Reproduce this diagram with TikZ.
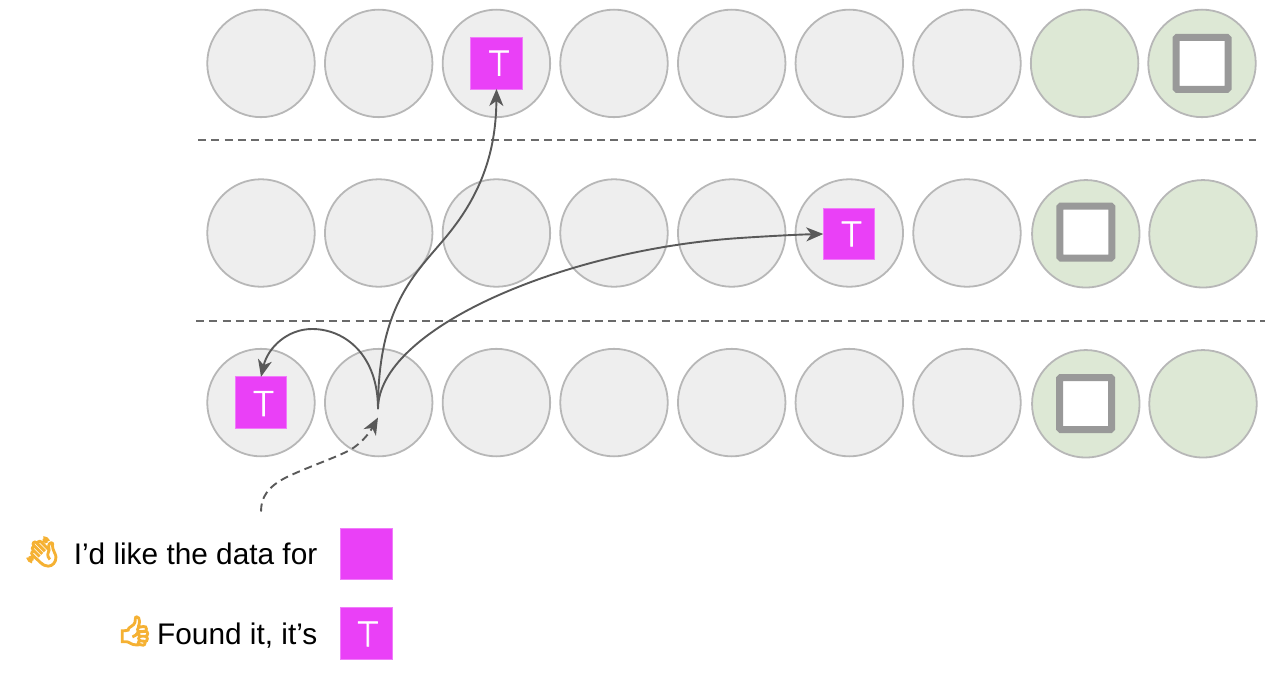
\documentclass[tikz,border=0pt]{standalone}
\usepackage{fontspec}
\setmainfont{Liberation Sans}
\newfontfamily\keyfont[FakeBold=2]{Lato Light}
\newfontfamily\emojifont[FakeBold=6]{Noto Emoji}
\usetikzlibrary{arrows.meta}
\definecolor{cellgray}{HTML}{EEEEEE}
\definecolor{cellgreen}{HTML}{DDE8D5}
\definecolor{celledge}{HTML}{B7B7B7}
\definecolor{keypink}{HTML}{EA40F7}
\definecolor{keyedge}{HTML}{F07CFA}
\definecolor{slotedge}{HTML}{999999}
\definecolor{linegray}{HTML}{595959}
\definecolor{emojiyellow}{HTML}{F5B133}
\tikzset{
  x=1pt,y=-1pt,
  cell/.style={circle,draw=celledge,line width=1.8pt,minimum size=107.5pt,inner sep=0pt,outer sep=0pt,fill=cellgray},
  greencell/.style={cell,fill=cellgreen},
  key/.style={rectangle,draw=keyedge,line width=.8pt,fill=keypink,minimum size=51.5pt,inner sep=0pt,outer sep=0pt,text=white},
  keytext/.style={inner sep=0pt,text=white,font=\keyfont\fontsize{35}{35}\selectfont},
  slot/.style={rectangle,rounded corners=1.2pt,draw=slotedge,line width=7pt,fill=white,minimum size=52pt,inner sep=0pt,outer sep=0pt},
  divider/.style={draw=linegray!90,line width=1.6pt,dash pattern=on 8pt off 5.3pt},
  conn/.style={draw=linegray,line width=1.9pt,-{Stealth[length=17pt,width=14pt,inset=5pt]}},
  dashedconn/.style={conn,dash pattern=on 8pt off 5pt},
  label/.style={anchor=base east,inner sep=0pt,font=\fontsize{29.8}{30}\selectfont},
  emoji/.style={inner sep=0pt,text=emojiyellow,font=\emojifont\fontsize{29}{29}\selectfont},
}
\begin{document}
\begin{tikzpicture}
\useasboundingbox (0,0) rectangle (1272,680);
% row 1
\foreach \n/\x in {1/261,2/378.7,3/496.4,4/614,5/731.7,6/849.3,7/967} \node[cell] (a\n) at (\x,63.4) {};
\node[greencell] (a8) at (1084.6,63.4) {};
\node[greencell] (a9) at (1202,63.4) {};
% row 2
\foreach \n/\x in {1/261,2/378.7,3/496.4,4/614,5/731.7,6/849.3,7/967} \node[cell] (b\n) at (\x,233) {};
\node[greencell] (b8) at (1085.8,233.8) {};
\node[greencell] (b9) at (1203,233.8) {};
% row 3
\foreach \n/\x in {1/261,2/378.7,3/496.4,4/614,5/731.7,6/849.3,7/967} \node[cell] (c\n) at (\x,402.6) {};
\node[greencell] (c8) at (1085.8,403.8) {};
\node[greencell] (c9) at (1203,403.8) {};
% slots
\node[slot] (s1) at (a9) {};
\node[slot] (s2) at (1085.8,232) {};
\node[slot] (s3) at (1085.5,403.5) {};
% keys
\node[key] (k1) at (496.5,63.2) {};
\node[key] (k2) at (849,234) {};
\node[key] (k3) at (261,402.6) {};
\node[key] (k4) at (366.3,554) {};
\node[key] (k5) at (366.3,633.6) {};
\node[keytext] (t1k) at (499,63.2) {T};
\node[keytext] (t2k) at (851.5,234) {T};
\node[keytext] (t3k) at (263.5,403.6) {T};
\node[keytext] (t5k) at (367.8,634) {T};
% dividers
\coordinate (d1a) at (198,140); \coordinate (d1b) at (1256,140);
\coordinate (d2a) at (196,321); \coordinate (d2b) at (1265,321);
\draw[divider] (d1a) -- (d1b);
\draw[divider] (d2a) -- (d2b);
% connectors
\coordinate (hub) at (378,409);
\coordinate (ask) at (261,511.5);
\coordinate (askend) at (378,417.5);
\draw[conn] (hub) .. controls (378,355) and (345,329) .. (312,329)
  .. controls (288,329) and (268,347) .. (k3.north);
\draw[conn] (hub) .. controls (378,300) and (420,270) .. (450,232)
  .. controls (485,188) and (496,145) .. (k1.south);
\draw[conn] (hub) .. controls (378,330) and (560,250) .. (740,238)
  .. controls (770,236) and (800,234.5) .. (k2.west);
\draw[dashedconn] (ask) .. controls (261,497) and (268,487) .. (285,478)
  .. controls (305,468) and (335,458) .. (350,450)
  .. controls (362,443) and (370,432) .. (askend);
% labels
\node[label] (t1) at (317.5,564) {I’d like the data for};
\node[label] (t2) at (317.5,644) {Found it, it’s};
\node[emoji] (e1) at (42,552) {👋};
\node[emoji] (e2) at (135,631) {👍};
\end{tikzpicture}
\end{document}
